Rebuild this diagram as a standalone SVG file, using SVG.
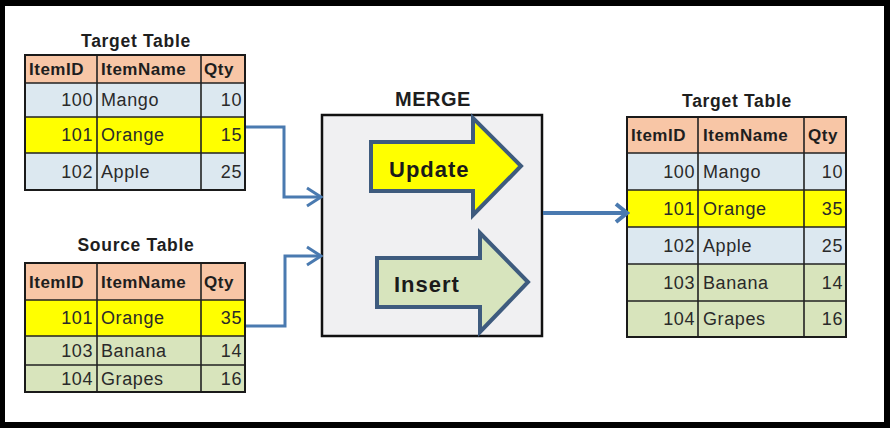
<svg xmlns="http://www.w3.org/2000/svg" width="890" height="428" viewBox="0 0 890 428">
<style>
.title{font-family:"Liberation Sans",Arial,sans-serif;font-weight:bold;font-size:17.5px;fill:#1e1e1e;text-anchor:middle;letter-spacing:0.7px}
.hd{font-family:"Liberation Sans",Arial,sans-serif;font-weight:bold;font-size:17px;fill:#1e1e1e;letter-spacing:0.5px}
.d{font-family:"Liberation Sans",Arial,sans-serif;font-size:18px;fill:#2a2a2a;letter-spacing:0.6px}
.r{text-anchor:end}
.hdr{fill:#f8c6a6}
.blue{fill:#dce8f0}
.yel{fill:#ffff00}
.grn{fill:#d8e4bc}
.grid{stroke:#222;stroke-width:1.6;fill:none}
.outer{stroke:#1a1a1a;stroke-width:2;fill:none}
.arr{stroke:#3e5b7e;stroke-width:4;stroke-linejoin:miter}
.arrtxt{font-family:"Liberation Sans",Arial,sans-serif;font-weight:bold;font-size:22px;fill:#1a1a1a;letter-spacing:1px}
.conn{stroke:#4a7ab0;stroke-width:3;fill:none}
</style>
<defs>
<marker id="chev" markerUnits="userSpaceOnUse" viewBox="0 0 18 22" refX="16" refY="11" markerWidth="18" markerHeight="22" orient="auto">
<path d="M2,2 L16,11 L2,20" fill="none" stroke="#4a7ab0" stroke-width="3"/>
</marker>
<marker id="chev2" markerUnits="userSpaceOnUse" viewBox="0 0 16 22" refX="14" refY="11" markerWidth="16" markerHeight="22" orient="auto">
<path d="M2,2 L13,11 L2,20" fill="none" stroke="#4a7ab0" stroke-width="4"/>
</marker>
</defs>
<rect x="0" y="0" width="890" height="428" fill="#000"/>
<rect x="5" y="6" width="879" height="416" fill="#fff"/>

<g id="target-before">
<text class="title" x="136" y="47">Target Table</text>
<rect class="hdr" x="25" y="55" width="220" height="28"/>
<rect class="blue" x="25" y="83" width="220" height="34"/>
<rect class="yel" x="25" y="117" width="220" height="36"/>
<rect class="blue" x="25" y="153" width="220" height="37"/>
<path class="grid" d="M25,83H245M25,117H245M25,153H245M97,55V190M201,55V190"/>
<rect class="outer" x="25" y="55" width="220" height="135"/>
<text class="hd" x="29" y="75">ItemID</text>
<text class="hd" x="101" y="75">ItemName</text>
<text class="hd" x="204" y="75">Qty</text>
<text class="d r" x="93" y="106">100</text><text class="d" x="101" y="106">Mango</text><text class="d r" x="242" y="106">10</text>
<text class="d r" x="93" y="141">101</text><text class="d" x="101" y="141">Orange</text><text class="d r" x="242" y="141">15</text>
<text class="d r" x="93" y="178">102</text><text class="d" x="101" y="178">Apple</text><text class="d r" x="242" y="178">25</text>
</g>

<g id="source">
<text class="title" x="136" y="251">Source Table</text>
<rect class="hdr" x="25" y="263" width="220" height="37"/>
<rect class="yel" x="25" y="300" width="220" height="36"/>
<rect class="grn" x="25" y="336" width="220" height="29"/>
<rect class="grn" x="25" y="365" width="220" height="27"/>
<path class="grid" d="M25,300H245M25,336H245M25,365H245M97,263V392M201,263V392"/>
<rect class="outer" x="25" y="263" width="220" height="129"/>
<text class="hd" x="29" y="288">ItemID</text>
<text class="hd" x="101" y="288">ItemName</text>
<text class="hd" x="204" y="288">Qty</text>
<text class="d r" x="93" y="324">101</text><text class="d" x="101" y="324">Orange</text><text class="d r" x="242" y="324">35</text>
<text class="d r" x="93" y="357">103</text><text class="d" x="101" y="357">Banana</text><text class="d r" x="242" y="357">14</text>
<text class="d r" x="93" y="385">104</text><text class="d" x="101" y="385">Grapes</text><text class="d r" x="242" y="385">16</text>
</g>

<g id="merge">
<text class="title" x="433" y="106" style="font-size:20px;letter-spacing:0.5px">MERGE</text>
<rect x="322" y="115" width="220" height="221" fill="#f0f0f2" stroke="#111" stroke-width="2.5"/>
<g id="update">
<polygon class="arr" fill="#ffff00" points="371,142 473,142 473,118 521,166 473,215 473,191 371,191"/>
<text class="arrtxt" x="389" y="177">Update</text>
</g>
<g id="insert">
<polygon class="arr" fill="#d7e4bd" points="377,258 480,258 480,233 528,282 480,332 480,307 377,307"/>
<text class="arrtxt" x="394" y="292">Insert</text>
</g>
</g>

<g id="target-after">
<text class="title" x="737" y="107">Target Table</text>
<rect class="hdr" x="627" y="117" width="219" height="36"/>
<rect class="blue" x="627" y="153" width="219" height="37"/>
<rect class="yel" x="627" y="190" width="219" height="37"/>
<rect class="blue" x="627" y="227" width="219" height="37"/>
<rect class="grn" x="627" y="264" width="219" height="37"/>
<rect class="grn" x="627" y="301" width="219" height="36"/>
<path class="grid" d="M627,153H846M627,190H846M627,227H846M627,264H846M627,301H846M698,117V337M804,117V337"/>
<rect class="outer" x="627" y="117" width="219" height="220"/>
<text class="hd" x="631" y="141">ItemID</text>
<text class="hd" x="703" y="141">ItemName</text>
<text class="hd" x="808" y="141">Qty</text>
<text class="d r" x="695" y="178">100</text><text class="d" x="703" y="178">Mango</text><text class="d r" x="843" y="178">10</text>
<text class="d r" x="695" y="215">101</text><text class="d" x="703" y="215">Orange</text><text class="d r" x="843" y="215">35</text>
<text class="d r" x="695" y="252">102</text><text class="d" x="703" y="252">Apple</text><text class="d r" x="843" y="252">25</text>
<text class="d r" x="695" y="289">103</text><text class="d" x="703" y="289">Banana</text><text class="d r" x="843" y="289">14</text>
<text class="d r" x="695" y="325">104</text><text class="d" x="703" y="325">Grapes</text><text class="d r" x="843" y="325">16</text>
</g>

<g id="connectors">
<path class="conn" d="M246,127H284V197H321" marker-end="url(#chev)"/>
<path class="conn" d="M246,326H285V256H321" marker-end="url(#chev)"/>
<path class="conn" d="M543,213H628" style="stroke-width:4" marker-end="url(#chev2)"/>
</g>
</svg>
